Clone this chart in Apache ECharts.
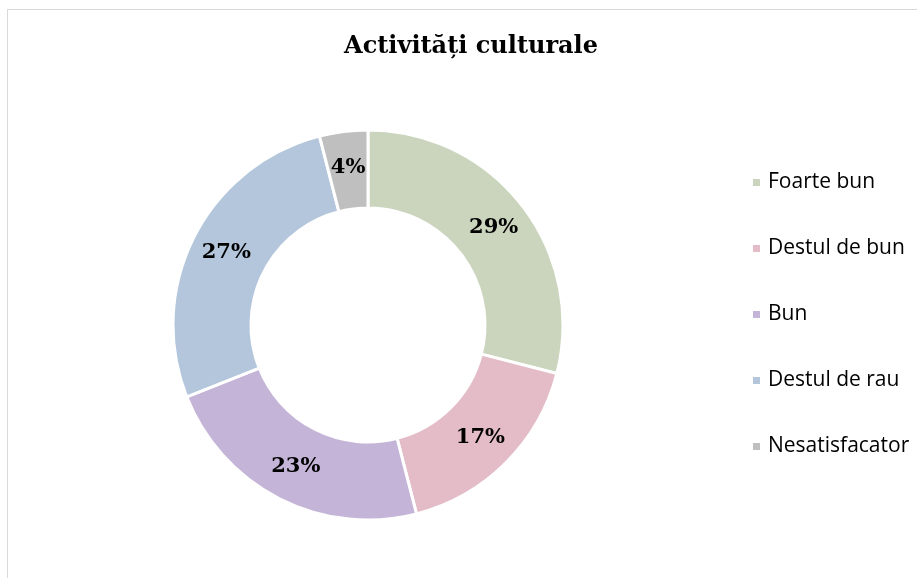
<!DOCTYPE html>
<html>
<head>
<meta charset="utf-8">
<script src="https://cdn.jsdelivr.net/npm/echarts@6/dist/echarts.min.js"></script>
<style>
  html, body { margin: 0; padding: 0; background: #fff; }
  #chart { width: 917px; height: 578px; }
</style>
</head>
<body>
<div id="chart"></div>
<script>
var categories = ['Foarte bun', 'Destul de bun', 'Bun', 'Destul de rau', 'Nesatisfacator'];
var values = [29, 17, 23, 27, 4];
var colors = ['#cbd5be', '#e3bcc8', '#c4b4d7', '#b3c6db', '#bfbfbf'];

var chart = echarts.init(document.getElementById('chart'));

var data = [];
for (var i = 0; i < categories.length; i++) {
    data.push({ name: categories[i], value: values[i], itemStyle: { color: colors[i] } });
}

var option = {
    backgroundColor: '#ffffff',
    animation: false,
    title: {
        text: 'Activități culturale',
        left: 466,
        top: 30,
        textAlign: 'center',
        textStyle: {
            fontFamily: 'DejaVu Serif',
            fontWeight: 'bold',
            fontSize: 24,
            color: '#000'
        }
    },
    legend: {
        orient: 'vertical',
        left: 746,
        top: 167,
        itemWidth: 9,
        itemHeight: 9,
        itemGap: 45,
        icon: 'rect',
        textStyle: {
            fontFamily: 'Open Sans',
            fontSize: 21,
            lineHeight: 20,
            color: '#000',
            padding: [0, 0, 0, 2]
        },
        data: categories
    },
    graphic: [{
        type: 'rect',
        shape: { x: 7.5, y: 9.5, width: 930, height: 600 },
        style: { fill: 'none', stroke: '#d9d9d9', lineWidth: 1 },
        silent: true
    }],
    series: [{
        type: 'pie',
        center: [368, 325],
        radius: [117, 195],
        startAngle: 90,
        clockwise: true,
        avoidLabelOverlap: false,
        itemStyle: { borderColor: '#fff', borderWidth: 3 },
        label: {
            show: true,
            position: 'inside',
            formatter: '{c}%',
            fontFamily: 'DejaVu Serif',
            fontWeight: 'bold',
            fontSize: 21,
            color: '#000'
        },
        labelLine: { show: false },
        emphasis: { disabled: true },
        data: data
    }]
};

chart.setOption(option);
</script>
</body>
</html>
